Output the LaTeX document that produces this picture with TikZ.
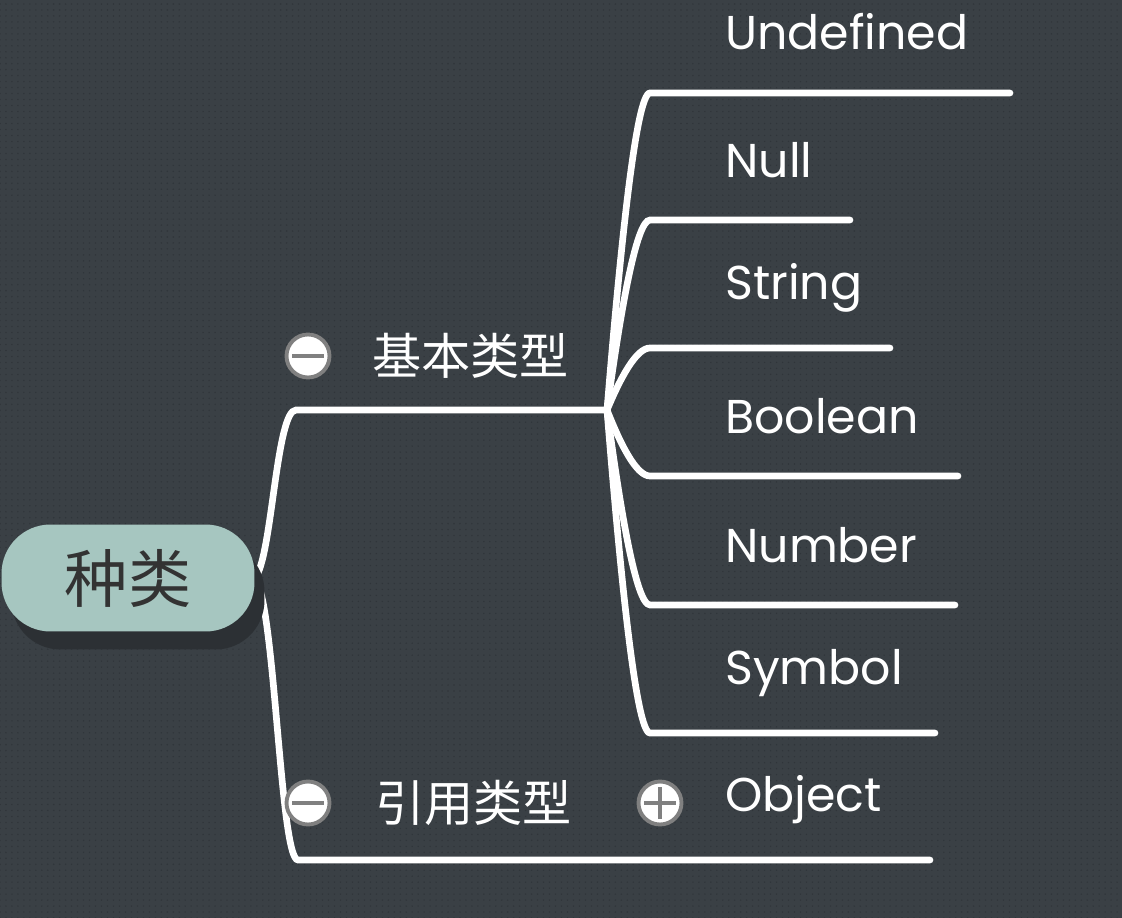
\documentclass[tikz,border=0pt]{standalone}
\usepackage{fontspec}
\setmainfont{Poppins}
\newfontfamily\cjk{Noto Sans CJK SC}
\usetikzlibrary{positioning, shadows, backgrounds, patterns.meta}

\definecolor{boardgrey}{HTML}{3A4045}
\definecolor{boarddot}{HTML}{30353A}
\definecolor{rootteal}{HTML}{A6C6C0}
\definecolor{rootshadow}{HTML}{2C3034}
\definecolor{toggleedge}{HTML}{808080}
\definecolor{roottext}{HTML}{333333}

\begin{document}
\begin{tikzpicture}[
    x=0.02cm, y=-0.02cm,
    % --- Styles ---
    branch/.style={draw=white, line width=3.8pt, line cap=round},
    root box/.style={fill=rootteal, rounded corners=0.98cm, minimum width=5.06cm, minimum height=2.14cm,
        font=\cjk\fontsize{36}{40}\selectfont, text=roottext,
        drop shadow={shadow xshift=0.2cm, shadow yshift=-0.36cm, fill=rootshadow, opacity=1}},
    group label/.style={anchor=west, text=white, font=\cjk\fontsize{28}{32}\selectfont, inner sep=0pt},
    leaf label/.style={anchor=west, text=white, font=\fontsize{27}{32}\selectfont, inner sep=0pt},
    toggle/.style={circle, fill=white, draw=toggleedge, line width=2.2pt, minimum size=0.86cm, inner sep=0pt},
    minus/.style={toggle, path picture={
        \draw[toggleedge, line width=2.4pt] ([xshift=-0.32cm]path picture bounding box.center) -- ([xshift=0.32cm]path picture bounding box.center);}},
    plus/.style={toggle, path picture={
        \draw[toggleedge, line width=2.4pt] ([xshift=-0.32cm]path picture bounding box.center) -- ([xshift=0.32cm]path picture bounding box.center);
        \draw[toggleedge, line width=2.4pt] ([yshift=-0.32cm]path picture bounding box.center) -- ([yshift=0.32cm]path picture bounding box.center);}}
]

    % Board with its dot texture
    \useasboundingbox (0,0) rectangle (1122,918);
    \begin{scope}[on background layer]
        \fill[boardgrey] (0,0) rectangle (1122,918);
        \fill[pattern={Dots[radius=0.45pt, distance=3.4pt]}, pattern color=boarddot] (0,0) rectangle (1122,918);
    \end{scope}

    % Root topic
    \node[root box] (root) at (128,578) {种类};

    % Group topics
    \node[minus] (basicToggle) at (308,356) {};
    \node[group label] (basic) at (372,356) {基本类型};
    \node[minus] (refToggle) at (308,803) {};
    \node[group label] (ref) at (375,803) {引用类型};

    \coordinate (basicStart) at (296,410);
    \coordinate (basicFork) at (607,410);
    \coordinate (refStart) at (298,860);
    \coordinate (refEnd) at (930,860);

    \begin{scope}[on background layer]
        \draw[branch] (root.east) .. controls (272,560) and (276,410) .. (basicStart) -- (basicFork);
        \draw[branch] (root.east) .. controls (275,600) and (280,860) .. (refStart) -- (refEnd);
    \end{scope}

    % Leaves of the first group
    \foreach \leaf/\ytext/\yline/\xend in {Undefined/32/93/1010, Null/160/220/850, String/288/348/890,
            Boolean/416/476/958, Number/545/605/955, Symbol/673/733/935} {
        \node[leaf label] (\leaf) at (725,\ytext) {\leaf};
        \coordinate (\leaf-start) at (650,\yline);
        \coordinate (\leaf-end) at (\xend,\yline);
        \draw[branch] (basicFork) .. controls (620,{410+0.5*(\yline-410)}) and (636,\yline) .. (\leaf-start) -- (\leaf-end);
    }

    % Leaf of the second group
    \node[plus] (objectToggle) at (660,803) {};
    \node[leaf label] (Object) at (725,800) {Object};
\end{tikzpicture}
\end{document}
